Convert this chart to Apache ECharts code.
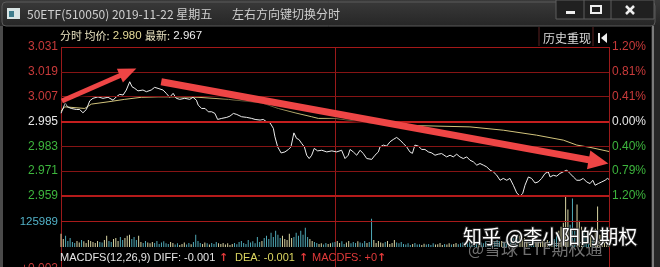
<!DOCTYPE html>
<html><head><meta charset="utf-8">
<script src="https://cdn.jsdelivr.net/npm/echarts@6/dist/echarts.min.js"></script>
<style>html,body{margin:0;padding:0;background:#000;overflow:hidden}#c{width:660px;height:267px}</style>
</head><body><div id="c"></div>
<script>
// ---------- data ----------
const prevClose = 2.995;
const priceTicks = [3.031, 3.019, 3.007, 2.995, 2.983, 2.971, 2.959];
const pctTicks = ['1.20%', '0.81%', '0.41%', '0.00%', '0.40%', '0.79%', '1.20%'];
const volumeTick = 125989;
const volumeMax = 251978;
// [minute index (0..240), price]
const pricePoints = [[0,2.9990],[1.9,3.0040],[2.8,3.0021],[4.5,3.0013],[6.7,3.0008],[8.2,3.0008],[9.6,2.9992],[11.1,3.0008],[12.6,3.0050],[14.0,3.0062],[16.2,3.0069],[18.4,3.0062],[20.6,3.0067],[22.8,3.0053],[24.2,3.0069],[25.7,3.0081],[27.2,3.0078],[28.6,3.0102],[30.1,3.0142],[31.1,3.0118],[32.3,3.0110],[33.7,3.0098],[35.9,3.0102],[37.4,3.0094],[39.5,3.0102],[41.0,3.0115],[42.5,3.0110],[44.7,3.0102],[46.1,3.0086],[47.6,3.0067],[49.1,3.0086],[50.5,3.0062],[52.0,3.0057],[54.2,3.0062],[56.4,3.0057],[57.8,3.0067],[59.3,3.0053],[60.1,3.0029],[61.6,3.0013],[63.1,3.0013],[64.5,2.9997],[66.0,2.9997],[67.4,2.9989],[68.6,2.9960],[70.4,2.9965],[72.6,2.9970],[74.0,2.9976],[75.5,2.9989],[77.0,2.9984],[79.1,2.9973],[81.3,2.9970],[83.5,2.9965],[85.0,2.9960],[87.2,2.9957],[88.6,2.9960],[90.1,2.9948],[91.5,2.9944],[93.0,2.9917],[93.7,2.9876],[94.9,2.9827],[96.4,2.9798],[98.1,2.9803],[99.6,2.9815],[100.7,2.9827],[102.0,2.9895],[103.2,2.9868],[104.2,2.9863],[105.4,2.9844],[106.6,2.9827],[107.6,2.9787],[108.7,2.9771],[109.8,2.9787],[110.9,2.9820],[112.4,2.9808],[114.2,2.9811],[116.4,2.9803],[118.6,2.9808],[120.7,2.9803],[122.9,2.9811],[124.4,2.9771],[125.8,2.9787],[126.6,2.9815],[128.0,2.9803],[129.5,2.9787],[131.0,2.9811],[132.4,2.9795],[133.9,2.9771],[134.6,2.9779],[136.1,2.9767],[137.5,2.9787],[139.0,2.9803],[139.7,2.9827],[141.2,2.9836],[142.6,2.9831],[144.1,2.9852],[145.5,2.9863],[147.0,2.9873],[148.5,2.9860],[149.9,2.9844],[151.4,2.9827],[152.8,2.9803],[153.9,2.9796],[155.0,2.9836],[156.5,2.9831],[158.0,2.9815],[159.4,2.9815],[160.9,2.9803],[162.4,2.9798],[163.8,2.9787],[165.2,2.9792],[166.7,2.9795],[167.4,2.9803],[168.9,2.9779],[170.4,2.9787],[171.8,2.9779],[173.3,2.9792],[174.7,2.9779],[176.2,2.9771],[177.7,2.9779],[179.1,2.9763],[180.6,2.9755],[182.1,2.9739],[183.5,2.9747],[185.0,2.9739],[186.4,2.9731],[187.9,2.9715],[189.3,2.9707],[190.8,2.9691],[192.3,2.9666],[193.7,2.9675],[195.2,2.9666],[196.6,2.9675],[198.1,2.9642],[199.6,2.9605],[201.0,2.9589],[202.2,2.9602],[203.2,2.9642],[204.7,2.9682],[206.1,2.9675],[207.6,2.9653],[209.0,2.9658],[210.5,2.9675],[212.0,2.9699],[213.4,2.9707],[214.2,2.9682],[215.6,2.9690],[217.1,2.9686],[218.5,2.9699],[220.0,2.9707],[221.5,2.9715],[222.2,2.9723],[222.9,2.9699],[224.4,2.9682],[225.9,2.9666],[227.3,2.9666],[228.7,2.9675],[230.2,2.9658],[231.7,2.9650],[232.9,2.9666],[233.9,2.9642],[235.3,2.9650],[236.8,2.9658],[238.3,2.9666],[239.3,2.9675],[240,2.9670]];
// [minute index, average price]
const avgPoints = [[0,3.0000],[1.6,3.0021],[10.4,3.0013],[13.3,3.0034],[20.6,3.0045],[27.9,3.0057],[35.2,3.0067],[42.5,3.0069],[49.8,3.0069],[60.0,3.0067],[73.3,3.0057],[87.9,3.0040],[95.2,3.0013],[102.5,2.9992],[109.8,2.9973],[112.7,2.9965],[120,2.9965],[134.6,2.9944],[149.2,2.9932],[163.8,2.9928],[179.1,2.9924],[193.7,2.9908],[208.3,2.9884],[220.0,2.9860],[225.9,2.9836],[231.7,2.9825],[240,2.9805]];
// per-minute volume, minutes 0..240
const volumes = [
 65000,40000,55000,30000,45000,25000,20000,30000,22000,35000,
 28000,20000,35000,30000,25000,20000,30000,25000,22000,35000,
 55000,30000,25000,40000,45000,30000,50000,35000,45000,55000,
 60000,40000,50000,35000,55000,25000,20000,30000,22000,18000,
 25000,20000,30000,15000,22000,28000,18000,15000,25000,20000,
 12000,18000,10000,15000,22000,12000,20000,14000,25000,60000,
 30000,20000,15000,22000,18000,12000,20000,15000,25000,18000,
 15000,20000,12000,18000,10000,15000,20000,14000,25000,30000,
 20000,15000,35000,22000,28000,18000,50000,25000,30000,45000,
 55000,40000,70000,50000,80000,60000,45000,55000,40000,35000,
 65000,45000,50000,70000,55000,80000,60000,95000,50000,40000,
 30000,25000,20000,15000,18000,12000,20000,15000,18000,22000,
 25000,30000,20000,28000,15000,22000,30000,18000,25000,20000,
 28000,22000,18000,30000,20000,25000,140000,35000,20000,30000,
 22000,18000,25000,30000,15000,20000,35000,22000,18000,25000,
 15000,12000,18000,10000,15000,20000,12000,14000,10000,16000,
 12000,15000,10000,18000,12000,14000,20000,10000,15000,12000,
 18000,12000,15000,20000,14000,18000,22000,15000,20000,25000,
 20000,18000,25000,15000,22000,18000,28000,20000,25000,30000,
 25000,35000,28000,30000,22000,35000,28000,40000,45000,50000,
 60000,55000,40000,45000,35000,30000,25000,30000,22000,28000,
 25000,30000,22000,35000,28000,30000,40000,60000,80000,100000,
 120000,255000,185000,110000,240000,90000,210000,130000,100000,80000,
 60000,45000,70000,50000,90000,200000,60000,45000,35000,30000,
 40000];
// annotation arrows drawn by the author: [from, to] in [minute, price]
const arrowLines = [
 [[0.4, 3.0049], [29.4, 3.0189]],
 [[43.9, 3.0142], [235.4, 2.9756]]
];

// ---------- styles ----------
const RED = '#c83a3a', GREEN = '#3db53d', WHITE = '#e6e6e6';
const NUMFONT = 'Liberation Sans, Arial, sans-serif';
const CJK = '"Noto Sans CJK SC", "Liberation Sans", sans-serif';
function tickColor(v) { return v > prevClose + 1e-9 ? RED : (v < prevClose - 1e-9 ? GREEN : WHITE); }
function gridLine(v, i) {
  if (Math.abs(v - prevClose) < 1e-9) return { color: '#c41e1e', width: 2, type: 'solid' };
  if (i === priceTicks.length - 1) return { color: '#b41a1a', width: 2, type: 'solid' };
  if (i === 0) return { color: '#a41818', width: 1, type: 'solid' };
  return { color: '#861414', width: 1, type: 'solid' };
}
function segUp(i) {
  for (let k = 0; k < pricePoints.length - 1; k++) {
    if (i >= pricePoints[k][0] && i < pricePoints[k + 1][0]) return pricePoints[k + 1][1] >= pricePoints[k][1];
  }
  return true;
}

const xAxisBase = (gi) => ({
  type: 'value', gridIndex: gi, min: 0, max: 240, interval: 120,
  axisLine: { show: false }, axisTick: { show: false }, axisLabel: { show: false },
  splitLine: { show: true, lineStyle: { color: '#9a1a1a', width: 1 } }
});

const chart = echarts.init(document.getElementById('c'), null, { renderer: 'canvas', width: 660, height: 267 });
const option = {
  backgroundColor: '#000',
  animation: false,
  grid: [
    { left: 61, right: 51, top: 47, height: 149, containLabel: false, outerBoundsMode: 'none' },
    { left: 61, right: 51, top: 196, height: 51, containLabel: false, outerBoundsMode: 'none' },
    { left: 61, right: 51, top: 247, height: 40, containLabel: false, outerBoundsMode: 'none' }
  ],
  xAxis: [xAxisBase(0), xAxisBase(1), xAxisBase(2)],
  yAxis: [
    { type: 'value', gridIndex: 0, min: priceTicks[priceTicks.length - 1], max: priceTicks[0], show: false },
    { type: 'value', gridIndex: 1, min: 0, max: volumeMax, show: false },
    { type: 'value', gridIndex: 2, min: 0, max: 1, show: false }
  ],
  series: [
    {
      name: 'price', type: 'line', xAxisIndex: 0, yAxisIndex: 0, data: pricePoints,
      showSymbol: false, symbol: 'none', z: 4, silent: true,
      lineStyle: { color: '#ececec', width: 1 },
      markLine: {
        silent: true, symbol: 'none', animation: false, precision: 4,
        data: priceTicks.map((v, i) => ({
          yAxis: v, lineStyle: gridLine(v, i),
          label: { show: true, position: 'start', distance: 3, formatter: v.toFixed(3), color: tickColor(v), fontSize: 12, fontFamily: NUMFONT }
        }))
      }
    },
    {
      name: 'avg', type: 'line', xAxisIndex: 0, yAxisIndex: 0, data: avgPoints,
      showSymbol: false, symbol: 'none', z: 3, silent: true,
      lineStyle: { color: '#d2c47c', width: 1 },
      markLine: {
        silent: true, symbol: 'none', animation: false, precision: 4,
        data: priceTicks.map((v, i) => ({
          yAxis: v, lineStyle: { color: 'rgba(0,0,0,0)', width: 1, type: 'solid', opacity: 1 },
          label: { show: true, position: 'end', distance: 3, formatter: pctTicks[i], color: tickColor(v), opacity: 1, fontSize: 12, fontFamily: NUMFONT }
        }))
      }
    },
    {
      name: 'volume', type: 'bar', xAxisIndex: 1, yAxisIndex: 1, barWidth: 1, silent: true,
      data: volumes.map((v, i) => ({ value: [i, v], itemStyle: { color: segUp(i) ? '#d8d4a2' : '#4fa8b6' } })),
      markLine: {
        silent: true, symbol: 'none', animation: false, precision: 0,
        data: [{
          yAxis: volumeTick, lineStyle: { color: '#a81a1a', width: 1, type: 'solid' },
          label: { show: true, position: 'start', distance: 3, formatter: String(volumeTick), color: '#52b2c8', fontSize: 11.5, fontFamily: NUMFONT }
        }]
      }
    },
    {
      name: 'arrows', type: 'line', xAxisIndex: 0, yAxisIndex: 0, data: [], z: 20, silent: true,
      markLine: {
        silent: true, animation: false, z: 20, precision: 4,
        symbol: ['none', 'triangle'],
        label: { show: false },
        lineStyle: { color: '#ee4545', type: 'solid', opacity: 1, shadowBlur: 3, shadowColor: 'rgba(0,0,0,0.8)', shadowOffsetX: 2, shadowOffsetY: 2 },
        itemStyle: { color: '#ee4545' },
        data: [
          [{ coord: arrowLines[0][0], lineStyle: { width: 5 } }, { coord: arrowLines[0][1], symbolSize: [15, 18] }],
          [{ coord: arrowLines[1][0], lineStyle: { width: 7 } }, { coord: arrowLines[1][1], symbolSize: [19, 20] }]
        ]
      }
    }
  ],
  graphic: [
    // window chrome
    { type: 'rect', z: 1, shape: { x: 0, y: 0, width: 660, height: 26 }, style: { fill: { type: 'linear', x: 0, y: 0, x2: 0, y2: 1, colorStops: [{ offset: 0, color: '#3a3a3a' }, { offset: 1, color: '#262626' }] } } },
    { type: 'rect', z: 1, shape: { x: 2, y: 2, width: 653, height: 24, r: 4 }, style: { fill: null, stroke: '#5a5a5a', lineWidth: 1 } },
    { type: 'rect', z: 1, shape: { x: 0, y: 26, width: 3, height: 241 }, style: { fill: '#4a4a4a' } },
    { type: 'rect', z: 1, shape: { x: 651, y: 26, width: 9, height: 241 }, style: { fill: '#262626' } },
    { type: 'rect', z: 1, shape: { x: 652, y: 26, width: 2, height: 241 }, style: { fill: '#7a7a7a' } },
    { type: 'rect', z: 1, shape: { x: 7, y: 8, width: 13, height: 11 }, style: { fill: '#d8e4e4' } },
    { type: 'rect', z: 1, shape: { x: 9, y: 11, width: 5, height: 6 }, style: { fill: '#3f7d8c' } },
    { type: 'text', z: 2, style: { x: 27, y: 14, text: '50ETF(510050) 2019-11-22 星期五', fill: '#cfcfcf', font: '12px ' + CJK, verticalAlign: 'middle' } },
    { type: 'text', z: 2, style: { x: 232, y: 14, text: '左右方向键切换分时', fill: '#cfcfcf', font: '12px ' + CJK, verticalAlign: 'middle' } },
    // window buttons
    { type: 'rect', z: 2, shape: { x: 556, y: 0, width: 98, height: 19 }, style: { fill: '#202020', stroke: '#5c5c5c', lineWidth: 1 } },
    { type: 'line', z: 2, shape: { x1: 584, y1: 0, x2: 584, y2: 19 }, style: { stroke: '#5c5c5c' } },
    { type: 'line', z: 2, shape: { x1: 611, y1: 0, x2: 611, y2: 19 }, style: { stroke: '#5c5c5c' } },
    { type: 'rect', z: 3, shape: { x: 566, y: 11, width: 9, height: 3 }, style: { fill: '#eeeeee' } },
    { type: 'rect', z: 3, shape: { x: 591, y: 6, width: 10, height: 7 }, style: { fill: null, stroke: '#eeeeee', lineWidth: 2 } },
    { type: 'line', z: 3, shape: { x1: 626, y1: 6, x2: 634, y2: 14 }, style: { stroke: '#eeeeee', lineWidth: 2.5 } },
    { type: 'line', z: 3, shape: { x1: 634, y1: 6, x2: 626, y2: 14 }, style: { stroke: '#eeeeee', lineWidth: 2.5 } },
    // header inside chart
    { type: 'text', z: 5, style: { x: 60, y: 36, text: '{a|分时 均价:} {b|2.980} {a|最新:} {c|2.967}', verticalAlign: 'middle',
        rich: { a: { fill: '#e8e2c0', font: '11px ' + CJK }, b: { fill: '#e6dc9a', font: '11.5px ' + NUMFONT }, c: { fill: '#eeeeee', font: '11.5px ' + NUMFONT } } } },
    { type: 'line', z: 2, shape: { x1: 539, y1: 27, x2: 539, y2: 46 }, style: { stroke: '#5a2020' } },
    { type: 'line', z: 2, shape: { x1: 593, y1: 27, x2: 593, y2: 46 }, style: { stroke: '#5a2020' } },
    { type: 'text', z: 5, style: { x: 543, y: 38, text: '历史重现', fill: '#dcdcdc', font: '12px ' + CJK, verticalAlign: 'middle' } },
    { type: 'rect', z: 5, shape: { x: 598, y: 33, width: 2, height: 10 }, style: { fill: '#eeeeee' } },
    { type: 'polygon', z: 5, shape: { points: [[601, 38], [607, 33], [607, 43]] }, style: { fill: '#eeeeee' } },
    // MACD caption
    { type: 'text', z: 5, style: { x: 60, y: 258, text: 'MACDFS(12,26,9) DIFF: -0.001', fill: '#e6e6e6', font: '11px ' + NUMFONT, verticalAlign: 'middle' } },
    { type: 'text', z: 5, style: { x: 219, y: 258, text: '↑', fill: '#e23a3a', font: 'bold 11px DejaVu Sans', verticalAlign: 'middle' } },
    { type: 'text', z: 5, style: { x: 235, y: 258, text: 'DEA: -0.001', fill: '#dcd660', font: '11px ' + NUMFONT, verticalAlign: 'middle' } },
    { type: 'text', z: 5, style: { x: 299, y: 258, text: '↑', fill: '#e23a3a', font: 'bold 11px DejaVu Sans', verticalAlign: 'middle' } },
    { type: 'text', z: 5, style: { x: 312, y: 258, text: 'MACDFS: +0', fill: '#e23a3a', font: '11px ' + NUMFONT, verticalAlign: 'middle' } },
    { type: 'text', z: 5, style: { x: 377, y: 258, text: '↑', fill: '#e23a3a', font: 'bold 11px DejaVu Sans', verticalAlign: 'middle' } },
    { type: 'text', z: 5, style: { x: 58, y: 263, text: '+0.002', fill: '#c83a3a', font: '12px ' + NUMFONT, align: 'right', verticalAlign: 'top' } },
    // watermark
    { type: 'text', z: 50, style: { x: 468, y: 249, text: '@雪球 ETF期权通', fill: 'rgba(150,150,150,0.75)', font: '17px ' + CJK, verticalAlign: 'middle' } },
    { type: 'text', z: 51, style: { x: 463, y: 237, text: '知乎 @李小阳的期权', fill: '#ffffff', stroke: 'rgba(40,40,40,0.9)', lineWidth: 2, font: '19px ' + CJK, verticalAlign: 'middle' } }
  ]
};
chart.setOption(option);
</script>
</body></html>
